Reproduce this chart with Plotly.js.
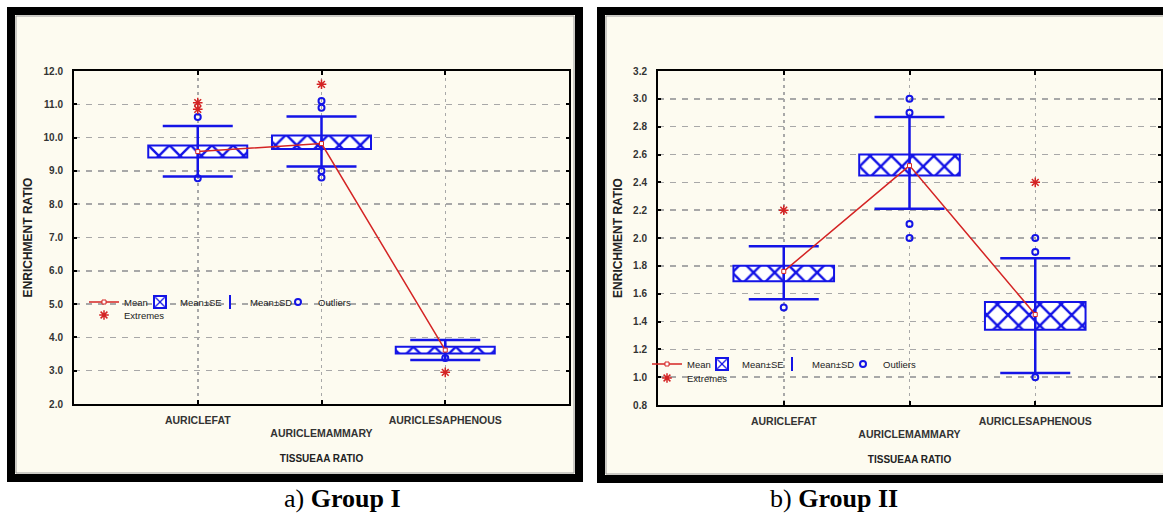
<!DOCTYPE html>
<html><head><meta charset="utf-8">
<script src="https://cdn.plot.ly/plotly-3.0.1.min.js"></script>
<style>html,body{margin:0;padding:0;background:#fff}#chart{width:1163px;height:513px}</style>
</head><body><div id="chart"></div>
<script>
// ---- data ----
const categories = ['AURICLEFAT', 'AURICLEMAMMARY', 'AURICLESAPHENOUS'];
const catIndex = [0, 1, 2];
const tickLabels = ['AURICLEFAT', '<br>AURICLEMAMMARY', 'AURICLESAPHENOUS'];
const legendNames = ['Mean', 'Mean±SE', 'Mean±SD', 'Outliers', 'Extremes'];

// Group I
const g1Mean   = [9.58, 9.82, 3.62];
const g1SeLow  = [9.40, 9.66, 3.52];
const g1SeHigh = [9.76, 10.06, 3.72];
const g1SdLow  = [8.83, 9.13, 3.32];
const g1SdHigh = [10.35, 10.63, 3.92];
const g1OutX = [0, 0, 1, 1, 1, 1, 2];
const g1OutY = [10.62, 8.78, 11.1, 10.9, 9.0, 8.8, 3.38];
const g1ExtX = [0, 0, 1, 2];
const g1ExtY = [11.05, 10.85, 11.6, 2.95];
const g1Ticks = [2, 3, 4, 5, 6, 7, 8, 9, 10, 11, 12];

// Group II
const g2Mean   = [1.76, 2.52, 1.45];
const g2SeLow  = [1.69, 2.45, 1.34];
const g2SeHigh = [1.80, 2.60, 1.54];
const g2SdLow  = [1.56, 2.21, 1.03];
const g2SdHigh = [1.94, 2.87, 1.855];
const g2OutX = [0, 1, 1, 1, 1, 2, 2, 2];
const g2OutY = [1.50, 3.0, 2.9, 2.1, 2.0, 2.0, 1.9, 1.0];
const g2ExtX = [0, 2];
const g2ExtY = [2.2, 2.4];
const g2Ticks = [0.8, 1.0, 1.2, 1.4, 1.6, 1.8, 2.0, 2.2, 2.4, 2.6, 2.8, 3.0, 3.2];

// ---- style ----
const W = 1163, H = 513;
const BLUE = '#1414e6', RED = '#d42424';
const FONT = 'Liberation Sans, Arial, sans-serif';
const px = x => x / W;
const py = y => 1 - y / H;

// legs: [mean, se, sd, outliers, extremes] legend ids
function panelTraces(xa, ya, legs, mean, seLo, seHi, sdLo, sdHi, oX, oY, eX, eY) {
  return [
    {type: 'bar', x: catIndex, y: seHi.map((v, i) => v - seLo[i]), base: seLo, width: 0.8,
     xaxis: xa, yaxis: ya, name: legendNames[1], legend: legs[1], hoverinfo: 'skip',
     marker: {color: 'white', line: {color: BLUE, width: 2},
              pattern: {shape: 'x', fgcolor: BLUE, bgcolor: 'white', size: 15, solidity: 0.3}}},
    {type: 'scatter', mode: 'markers', x: catIndex, y: mean, xaxis: xa, yaxis: ya,
     name: legendNames[2], legend: legs[2], hoverinfo: 'skip',
     marker: {symbol: 'line-ns-open', size: 10, color: BLUE, line: {color: BLUE, width: 2}},
     error_y: {type: 'data', symmetric: false, array: sdHi.map((v, i) => v - mean[i]),
               arrayminus: mean.map((v, i) => v - sdLo[i]), color: BLUE, thickness: 2.5, width: 35}},
    {type: 'scatter', mode: 'lines+markers', x: catIndex, y: mean, xaxis: xa, yaxis: ya,
     name: legendNames[0], legend: legs[0], hoverinfo: 'skip',
     line: {color: RED, width: 1.5},
     marker: {symbol: 'square', size: 4, color: 'white', line: {color: RED, width: 1}}},
    {type: 'scatter', mode: 'markers', x: oX, y: oY, xaxis: xa, yaxis: ya,
     name: legendNames[3], legend: legs[3], hoverinfo: 'skip',
     marker: {symbol: 'circle-open', size: 6, color: BLUE, line: {color: BLUE, width: 2}}},
    {type: 'scatter', mode: 'markers', x: eX, y: eY, xaxis: xa, yaxis: ya,
     name: legendNames[4], legend: legs[4], hoverinfo: 'skip',
     marker: {symbol: 'asterisk-open', size: 8, color: RED, line: {color: RED, width: 1.5}}}
  ];
}

const data = [
  ...panelTraces('x', 'y', ['legend', 'legend2', 'legend3', 'legend4', 'legend5'],
      g1Mean, g1SeLow, g1SeHigh, g1SdLow, g1SdHigh, g1OutX, g1OutY, g1ExtX, g1ExtY),
  ...panelTraces('x2', 'y2', ['legend6', 'legend7', 'legend8', 'legend9', 'legend10'],
      g2Mean, g2SeLow, g2SeHigh, g2SdLow, g2SdHigh, g2OutX, g2OutY, g2ExtX, g2ExtY)
];

const xTickFont = {family: FONT, size: 10.5, color: '#333', weight: 'bold'};
const yTickFont = {family: FONT, size: 10, color: '#333', weight: 'bold'};

function xAxis(domain) {
  return {domain: domain, range: [-1, 3], tickvals: catIndex, ticktext: tickLabels,
    ticks: 'inside', ticklen: 4, tickwidth: 2, tickcolor: '#000',
    showline: true, linecolor: '#000', linewidth: 2, mirror: 'ticks',
    showgrid: true, gridcolor: '#a8a8a8', gridwidth: 1.5, griddash: '3px,4px', zeroline: false,
    tickfont: xTickFont, ticklabelstandoff: 5, fixedrange: true,
    title: {text: 'TISSUEAA RATIO', font: {family: FONT, size: 10, color: '#222', weight: 'bold'}, standoff: 17}};
}
function yAxis(domain, range, ticks, anchor) {
  return {domain: domain, range: range, tickvals: ticks, tickformat: '.1f', anchor: anchor,
    ticks: 'inside', ticklen: 3, tickwidth: 2, tickcolor: '#000',
    showline: true, linecolor: '#000', linewidth: 2, mirror: 'ticks',
    showgrid: true, gridcolor: '#a8a8a8', gridwidth: 1.5, griddash: '6px,6px', zeroline: false,
    tickfont: yTickFont, ticklabelstandoff: 7, fixedrange: true,
    title: {text: 'ENRICHMENT RATIO', font: {family: FONT, size: 12, color: '#222', weight: 'bold'}, standoff: 8}};
}

const legBase = {orientation: 'h', xanchor: 'left', yanchor: 'middle', bgcolor: 'rgba(0,0,0,0)',
  borderwidth: 0, font: {family: FONT, size: 9.5, color: '#222'}, itemwidth: 30};
const leg = (textX, rowY) => Object.assign({}, legBase, {x: px(textX - 40), y: py(rowY)});

const layout = {
  width: W, height: H, margin: {l: 0, r: 0, t: 0, b: 0},
  paper_bgcolor: '#ffffff', plot_bgcolor: '#ffffff', showlegend: true,
  xaxis: Object.assign(xAxis([px(74), px(569)]), {anchor: 'y'}),
  yaxis: yAxis([py(404), py(71)], [2, 12], g1Ticks, 'x'),
  xaxis2: Object.assign(xAxis([px(658), px(1161)]), {anchor: 'y2'}),
  yaxis2: yAxis([py(405), py(71)], [0.8, 3.2], g2Ticks, 'x2'),
  legend:   leg(124, 302),
  legend2:  leg(180, 302),
  legend3:  leg(250, 302),
  legend4:  leg(318, 302),
  legend5:  leg(124, 315),
  legend6:  leg(687, 364),
  legend7:  leg(742, 364),
  legend8:  leg(812, 364),
  legend9:  leg(883, 364),
  legend10: leg(687, 378),
  shapes: [
    {type: 'rect', xref: 'paper', yref: 'paper', layer: 'below', x0: px(11), x1: px(579), y0: py(11), y1: py(478),
     line: {color: '#000', width: 8}, fillcolor: '#fdfbf0'},
    {type: 'rect', xref: 'paper', yref: 'paper', layer: 'below', x0: px(16), x1: px(574), y0: py(16), y1: py(473),
     line: {color: '#9a9a9a', width: 1}, fillcolor: 'rgba(0,0,0,0)'},
    {type: 'rect', xref: 'paper', yref: 'paper', layer: 'below', x0: px(601), x1: px(1170), y0: py(11), y1: py(479),
     line: {color: '#000', width: 8}, fillcolor: '#fdfbf0'},
    {type: 'rect', xref: 'paper', yref: 'paper', layer: 'below', x0: px(606), x1: px(1170), y0: py(16), y1: py(474),
     line: {color: '#9a9a9a', width: 1}, fillcolor: 'rgba(0,0,0,0)'}
  ],
  annotations: [
    {xref: 'paper', yref: 'paper', x: px(342), y: py(498), xanchor: 'center', yanchor: 'middle', showarrow: false,
     text: 'a) <b>Group I</b>', font: {family: 'Liberation Serif, Times New Roman, serif', size: 26, color: '#000'}},
    {xref: 'paper', yref: 'paper', x: px(834), y: py(498), xanchor: 'center', yanchor: 'middle', showarrow: false,
     text: 'b) <b>Group II</b>', font: {family: 'Liberation Serif, Times New Roman, serif', size: 26, color: '#000'}}
  ]
};

Plotly.newPlot('chart', data, layout, {displayModeBar: false, staticPlot: true});
</script>
</body></html>
